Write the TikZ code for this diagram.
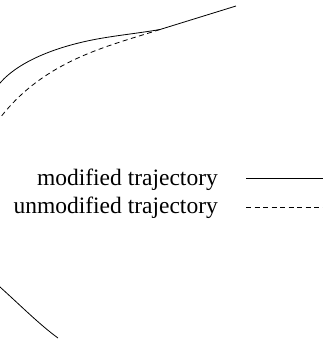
\documentclass[tikz,border=0pt]{standalone}
\usepackage{fontspec}
\setmainfont{Liberation Serif}
\tikzset{
  traj/.style={line width=0.8pt, line join=round},
  modtraj/.style={traj},
  unmodtraj/.style={traj, dash pattern=on 5pt off 3.5pt},
  legendtext/.style={inner sep=0pt, font=\fontsize{23.5}{28}\selectfont},
}
\begin{document}
\begin{tikzpicture}[x=1pt, y=-1pt]
  \useasboundingbox (0,0) rectangle (323,341);
  \clip (0,0) rectangle (323,341);

  % shared incoming branch and the point where the two paths split
  \coordinate (start) at (236,6);
  \coordinate (split) at (160,29.5);

  % modified trajectory
  \draw[modtraj] (start) -- (split)
    .. controls (140,33) and (120,35) .. (100,38.5)
    .. controls (60,45.5) and (20,60) .. (0,83)
    .. controls (-20,108) and (-40,160) .. (-40,190)
    .. controls (-40,230) and (-25,265) .. (0,287)
    .. controls (20,305) and (40,325) .. (58,338);

  % unmodified trajectory
  \draw[unmodtraj] (split)
    .. controls (110,45.7) and (45,59.5) .. (0,118)
    .. controls (-15,137) and (-30,160) .. (-40,190);

  % legend
  \node[legendtext, anchor=base east] (lmod) at (218,185) {modified trajectory};
  \node[legendtext, anchor=base east] (lunmod) at (218,213) {unmodified trajectory};
  \coordinate (lmodA) at (246,178);
  \coordinate (lmodB) at (323,178);
  \coordinate (lunA) at (246,207);
  \coordinate (lunB) at (323,207);
  \draw[modtraj] (lmodA) -- (lmodB);
  \draw[unmodtraj] (lunA) -- (lunB);
\end{tikzpicture}
\end{document}
